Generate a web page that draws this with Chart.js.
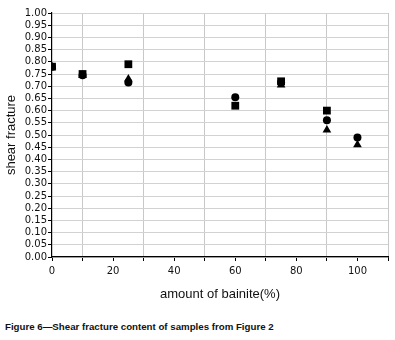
<!DOCTYPE html>
<html>
<head>
<meta charset="utf-8">
<script src="https://cdn.jsdelivr.net/npm/chart.js@4"></script>
<style>
html,body{margin:0;padding:0;background:#fff;}
#wrap{position:relative;width:395px;height:340px;}
#cv{position:absolute;left:0;top:0;}
#cap{position:absolute;left:5px;top:321px;font-family:"Liberation Sans Narrow","Liberation Sans",Arial,sans-serif;font-weight:bold;font-size:9.7px;color:#111;white-space:nowrap;}
</style>
</head>
<body>
<div id="wrap">
<canvas id="cv" width="395" height="310"></canvas>
<div id="cap">Figure 6—Shear fracture content of samples from Figure 2</div>
</div>
<script>
const xLabel = "amount of bainite(%)";
const yLabel = "shear fracture";
const squareX = [0, 10, 25, 60, 75, 90];
const squareY = [0.78, 0.75, 0.79, 0.62, 0.72, 0.60];
const circleX = [0, 10, 25, 60, 75, 90, 100];
const circleY = [0.78, 0.745, 0.715, 0.655, 0.715, 0.56, 0.49];
const triangleX = [0, 10, 25, 75, 90, 100];
const triangleY = [0.78, 0.745, 0.73, 0.705, 0.52, 0.46];
const xTickLabels = [0, 20, 40, 60, 80, 100];

function pts(xs, ys){ return xs.map((x,i)=>({x:x, y:ys[i]})); }

const tickFont = {family:"'DejaVu Sans', sans-serif", size:10};
const titleFont = {family:"'Liberation Sans', Arial, sans-serif", size:13};

new Chart(document.getElementById('cv'), {
  type:'scatter',
  data:{datasets:[
    {label:'circle', data:pts(circleX,circleY), pointStyle:'circle', pointRadius:4, backgroundColor:'#000', borderColor:'#000', borderWidth:0},
    {label:'square', data:pts(squareX,squareY), pointStyle:'rect', pointRadius:5.5, backgroundColor:'#000', borderColor:'#000', borderWidth:0},
    {label:'triangle', data:pts(triangleX,triangleY), pointStyle:'triangle', pointRadius:5, backgroundColor:'#000', borderColor:'#000', borderWidth:0}
  ]},
  options:{
    responsive:false, animation:false,
    layout:{padding:{top:13,right:7,left:0,bottom:8}},
    plugins:{legend:{display:false}, tooltip:{enabled:false}},
    scales:{
      x:{type:'linear', min:0, max:110,
        afterBuildTicks:(s)=>{ const t=[]; for(let v=0; v<=110; v+=10) t.push({value:v}); s.ticks=t; },
        afterFit:(s)=>{ s.height = 45; },
        ticks:{autoSkip:false, maxRotation:0, color:'#111', font:tickFont, padding:4,
          callback:(v)=> xTickLabels.includes(v) ? String(v) : ''},
        grid:{color:(c)=> (c.tick && c.tick.value % 20 === 10) ? '#c8c8c8' : 'rgba(0,0,0,0)', tickColor:'#000', tickLength:4, lineWidth:1},
        border:{color:'#000', width:1.2},
        title:{display:true, text:xLabel, color:'#111', font:titleFont, padding:{top:2,bottom:0}}
      },
      y:{type:'linear', min:0, max:1,
        afterBuildTicks:(s)=>{ const t=[]; for(let i=0;i<=20;i++) t.push({value:i*0.05}); s.ticks=t; },
        afterFit:(s)=>{ s.width = 52; },
        ticks:{autoSkip:false, color:'#111', font:tickFont, padding:1, callback:(v)=> (Math.round(v*100)/100).toFixed(2)},
        grid:{color:'#d2d2d2', tickColor:'#000', tickLength:4, lineWidth:1},
        border:{color:'#000', width:1.2},
        title:{display:true, text:yLabel, color:'#111', font:titleFont, padding:{top:4,bottom:2}}
      }
    }
  }
});
</script>
</body>
</html>
